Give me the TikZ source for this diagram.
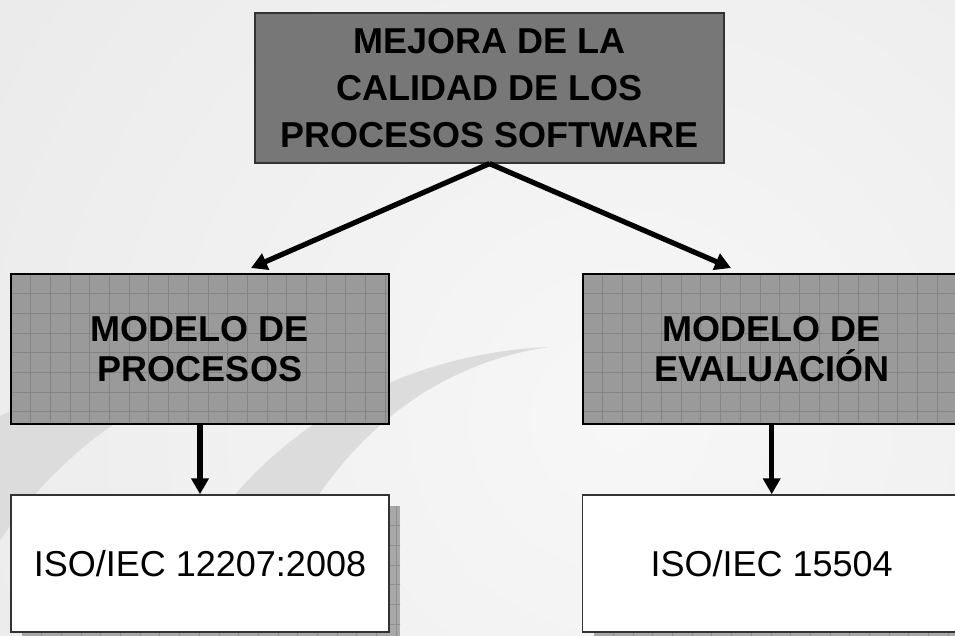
\documentclass[tikz,border=0pt]{standalone}
\usepackage{fontspec}
\setmainfont{Liberation Sans}
\usetikzlibrary{arrows.meta,calc}
\definecolor{bgbase}{HTML}{E4E4E4}
\definecolor{bglight}{HTML}{F7F7F7}
\definecolor{cresc}{HTML}{DCDCDC}
\definecolor{topgray}{HTML}{777777}
\definecolor{midgray}{HTML}{9A9A9A}
\definecolor{gridcol}{HTML}{848484}
\definecolor{shadowgray}{HTML}{A8A8A8}
\definecolor{shadowgrid}{HTML}{8E8E8E}
\tikzset{
  topbox/.style={draw=black!80, line width=1.2pt, fill=topgray, minimum width=469pt,
    minimum height=150pt, inner sep=0pt, align=center,
    font=\bfseries\fontsize{36}{47}\selectfont},
  gridlines/.style={path picture={
    \foreach \k in {1,...,20} {\draw[#1, line width=0.9pt]
      ($(path picture bounding box.north west)+(\k*19.7,-5)$) -- ++(0,180);}
    \foreach \k in {1,...,8} {\draw[#1, line width=0.9pt]
      ($(path picture bounding box.north west)+(-5,\k*19.7)$) -- ++(420,0);}
  }},
  gridbox/.style={draw=black, line width=1.6pt, fill=midgray, minimum width=378pt,
    minimum height=150pt, inner sep=0pt, align=center,
    font=\bfseries\fontsize{36}{40}\selectfont, gridlines=gridcol},
  shadowbox/.style={fill=shadowgray, minimum width=378pt, minimum height=137pt, inner sep=0pt,
    gridlines=shadowgrid},
  whitebox/.style={draw=black!80, line width=1.5pt, fill=white, minimum width=378pt,
    minimum height=137pt, inner sep=0pt, font=\fontsize{36}{40}\selectfont},
  arr/.style={-{Triangle[length=16pt,width=17pt]}, line width=5.2pt, black},
}
\begin{document}
\begin{tikzpicture}[x=1pt,y=-1pt]
\useasboundingbox (0,0) rectangle (955,635);
\begin{scope}
  \clip (0,0) rectangle (955,635);
  \fill[bgbase] (0,0) rectangle (955,635);
  \shade[inner color=bglight, outer color=bgbase] (620,420) circle (1150);
  % swooshes
  \fill[cresc] (250,640) .. controls (300,480) and (400,370) .. (548,347)
     .. controls (380,355) and (220,450) .. (150,640) -- cycle;
  \fill[cresc] (348,347) .. controls (180,355) and (20,450) .. (-50,640)
     -- (-80,640) -- (-40,440) .. controls (60,370) and (220,350) .. (348,347) -- cycle;
  % shadows of bottom boxes
  \node[shadowbox] (lbs) at (211,574.5) {};
  \node[shadowbox] (rbs) at (782.7,574.5) {};
\end{scope}

\node[topbox] (top) at (489.5,88) {MEJORA DE LA\\CALIDAD DE LOS\\PROCESOS SOFTWARE};
\node[gridbox] (lm) at (200,349) {MODELO DE\\PROCESOS};
\node[gridbox] (rm) at (771.7,349) {MODELO DE\\EVALUACIÓN};
\node[whitebox] (lb) at (200,563.5) {ISO/IEC 12207:2008};
\node[whitebox] (rb) at (771.7,563.5) {ISO/IEC 15504};

\coordinate (ltip) at (251,268);
\coordinate (rtip) at (731,268);
\draw[arr] (top.south) -- (ltip);
\draw[arr] (top.south) -- (rtip);
\draw[arr] (lm.south) -- (lb.north);
\draw[arr] (rm.south) -- (rb.north);
\end{tikzpicture}
\end{document}
